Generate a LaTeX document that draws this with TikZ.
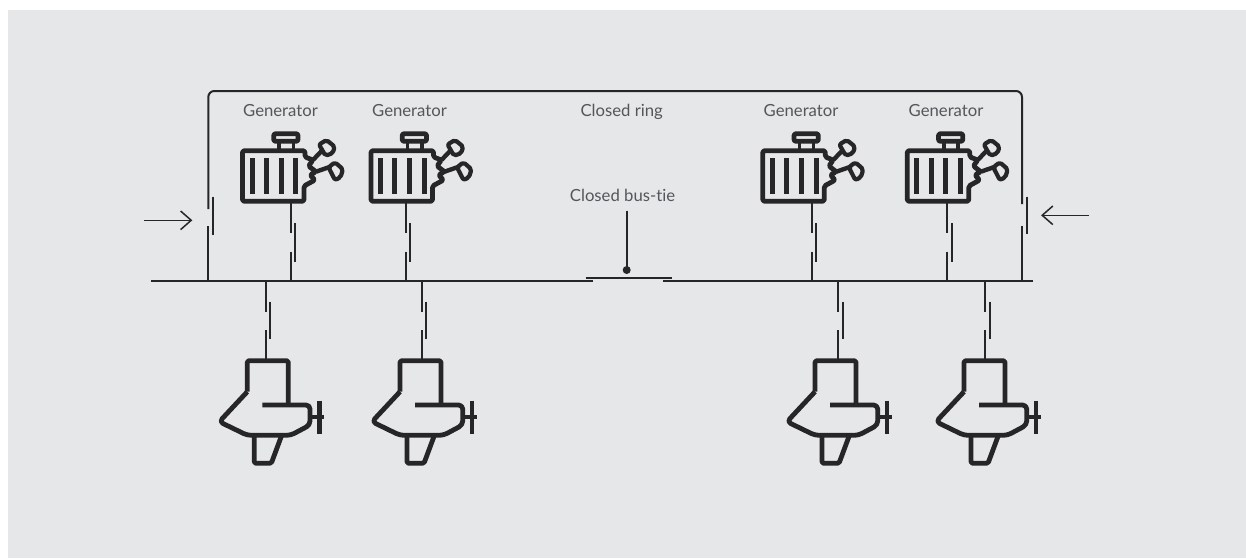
\documentclass[tikz,border=0pt]{standalone}
\usepackage{fontspec}
\setmainfont[Ligatures=NoCommon]{Lato}
\definecolor{panel}{HTML}{E6E7E9}
\definecolor{ink}{HTML}{262527}
\definecolor{label}{HTML}{55565A}
\tikzset{
  thin line/.style={draw=ink,line width=2pt},
  heavy/.style={draw=ink,line width=4.8pt,line join=round},
  lbl/.style={text=label,font=\fontsize{16.7}{18}\selectfont,anchor=base,inner sep=0pt},
  generator/.pic={
    \draw[heavy,rounded corners=1.6pt] (0,150.7) -- (62.5,150.7) -- (62.5,157) -- (70.5,160) -- (66,166) -- (73.5,171.7) -- (67.5,175) -- (72.5,180) -- (61.5,186) -- (61.5,201.3) -- (0,201.3) -- cycle;
    \draw[heavy,rounded corners=2pt] (31.2,133.7) rectangle (55.5,141.3);
    \draw[draw=ink,line width=3.6pt] (36.5,142) -- (36.5,150) (50.8,142) -- (50.8,150);
    \foreach \b in {9.5,23.8,38.5,53.2} \draw[draw=ink,line width=5pt] (\b,158.3) -- (\b,194);
    \draw[heavy,line width=4.4pt] (70.5,160) -- (80,150);
    \draw[heavy,line width=4.4pt] (73.5,171.7) -- (87,167);
    \draw[heavy,line width=4.2pt,rounded corners=2pt] (76.5,144.5) -- (84,140) -- (92.3,146.7) -- (90,153.3) -- (83,155.7) -- cycle;
    \draw[heavy,line width=4.2pt,rounded corners=2pt] (86,167.3) -- (92.5,162.3) -- (100.5,169.3) -- (98,177.3) -- (92.5,180) -- cycle;
  },
  thruster/.pic={
    \draw[heavy,rounded corners=1.5pt] (0,391.7) -- (0,360.7) -- (41,360.7) -- (41,405);
    \draw[heavy,rounded corners=4pt] (0,391.7) -- (-28,421.7) -- (0,435.3) -- (43.4,435.3) -- (62.7,425) -- (62.7,405) -- (15,405);
    \draw[heavy,rounded corners=1.5pt] (7,435.3) -- (7,463.3) -- (24,463.3) -- (34.4,435.3);
    \draw[heavy] (72,400.7) -- (72,434);
    \draw[heavy] (62.7,417) -- (76.7,417);
  }
}
\begin{document}
\begin{tikzpicture}[x=1pt,y=-1pt]
\useasboundingbox (0,0) rectangle (1246,558);
\fill[panel] (8,10) rectangle (1246,558);

% bus
\coordinate (busLeftStart) at (151.3,281.3);
\coordinate (busLeftEnd) at (593.3,281.3);
\coordinate (busRightStart) at (663.3,281.3);
\coordinate (busRightEnd) at (1033.3,281.3);
\draw[thin line] (busLeftStart) -- (busLeftEnd);
\draw[thin line] (busRightStart) -- (busRightEnd);

% bus-tie
\coordinate (tieA) at (585.7,277.7);
\coordinate (tieB) at (672.3,277.7);
\coordinate (tieTop) at (626.7,210.7);
\coordinate (tieDot) at (626.7,270);
\draw[thin line,line width=2.2pt] (tieA) -- (tieB);
\draw[thin line] (tieTop) -- (tieDot);
\fill[ink] (tieDot) circle (4pt);

% ring
\coordinate (ringLB) at (208.3,281.3);
\coordinate (ringLG) at (208.3,226);
\coordinate (ringLU) at (208.3,209);
\coordinate (ringTL) at (208.3,91);
\coordinate (ringTR) at (1022,91);
\coordinate (ringRU) at (1022,204);
\coordinate (ringRG) at (1022,225.7);
\coordinate (ringRB) at (1022,281.3);
\draw[thin line] (ringLB) -- (ringLG);
\draw[thin line,rounded corners=6pt] (ringLU) -- (ringTL) -- (ringTR) -- (ringRU);
\draw[thin line] (ringRG) -- (ringRB);
\coordinate (ringBarL1) at (213.3,196.7);
\coordinate (ringBarL2) at (213.3,235);
\coordinate (ringBarR1) at (1027,196.7);
\coordinate (ringBarR2) at (1027,234);
\draw[thin line] (ringBarL1) -- (ringBarL2);
\draw[thin line] (ringBarR1) -- (ringBarR2);

% arrows
\coordinate (arrLA) at (144,220.3);
\coordinate (arrLB) at (191.2,220.3);
\coordinate (arrRA) at (1089,215.3);
\coordinate (arrRB) at (1042.2,215.3);
\draw[draw=ink,line width=1.5pt] (arrLA) -- (arrLB);
\draw[draw=ink,line width=1.5pt] (180.6,211) -- (arrLB) -- (180.6,229.6);
\draw[draw=ink,line width=1.5pt] (arrRA) -- (arrRB);
\draw[draw=ink,line width=1.5pt] (1052.8,206) -- (arrRB) -- (1052.8,224.6);

% generators with breakers: icon left edge / stem x
\foreach \gx/\st/\n in {242.5/291/a,371/406/b,762.8/812/c,907.3/947.3/d}{
  \pic at (\gx,0) {generator};
  \coordinate (gs\n) at (\st,203);
  \coordinate (ge\n) at (\st,233);
  \coordinate (gf\n) at (\st,251.7);
  \coordinate (gb\n) at (\st,281.3);
  \draw[thin line] (gs\n) -- (ge\n);
  \draw[thin line] (gf\n) -- (gb\n);
  \draw[thin line] ([xshift=4.3pt]\st,223.3) -- ([xshift=4.3pt]\st,261.7);
}

% thrusters with breakers: icon left edge / stem x
\foreach \tx/\st/\n in {247.3/266/a,400/422/b,815/838.3/c,964/985.3/d}{
  \pic at (\tx,0) {thruster};
  \coordinate (ts\n) at (\st,281.3);
  \coordinate (te\n) at (\st,312);
  \coordinate (tf\n) at (\st,330);
  \coordinate (tb\n) at (\st,360.7);
  \draw[thin line] (ts\n) -- (te\n);
  \draw[thin line] (tf\n) -- (tb\n);
  \draw[thin line] ([xshift=4.2pt]\st,301.7) -- ([xshift=4.2pt]\st,339.3);
}

% labels
\node[lbl] (g1) at (280.5,116.6) {Generator};
\node[lbl] (g2) at (409.5,116.6) {Generator};
\node[lbl] (ring) at (621.7,116.6) {Closed ring};
\node[lbl] (g3) at (801,116.6) {Generator};
\node[lbl] (g4) at (946,116.6) {Generator};
\node[lbl] (tie) at (622.5,201.6) {Closed bus-tie};
\end{tikzpicture}
\end{document}
